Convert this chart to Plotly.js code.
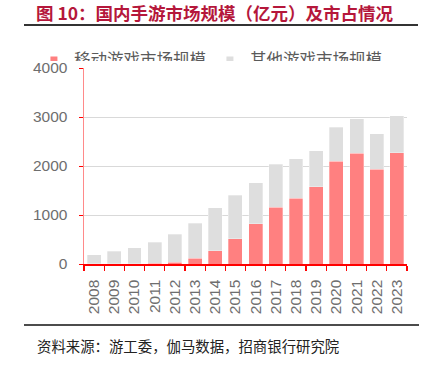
<!DOCTYPE html>
<html>
<head>
<meta charset="utf-8">
<script src="https://cdn.plot.ly/plotly-3.0.1.min.js"></script>
<style>
html, body { margin: 0; padding: 0; background: #fff; }
#chart { width: 423px; height: 368px; }
</style>
</head>
<body>
<div id="chart"></div>
<script>
var years = ['2008','2009','2010','2011','2012','2013','2014','2015','2016','2017','2018','2019','2020','2021','2022','2023'];
var mobileGame = [1.5, 6.4, 9.1, 17.0, 32.4, 112.4, 274.9, 514.6, 819.2, 1161.2, 1339.6, 1581.1, 2096.8, 2255.4, 1930.6, 2268.6];
var otherGame = [184.1, 256.4, 317.7, 429.1, 570.4, 719.3, 869.9, 892.4, 836.5, 874.9, 804.8, 727.7, 690.1, 709.7, 728.3, 761.0];
var seriesNames = ['移动游戏市场规模', '其他游戏市场规模'];
var titleText = '图 10：国内手游市场规模（亿元）及市占情况';
var sourceText = '资料来源：游工委，伽马数据，招商银行研究院';

var RED = '#FF8080', GRAY = '#DEDEDE';
var numFont = 'Liberation Sans, Arial, sans-serif';
var cjkFont = 'Noto Sans CJK SC, sans-serif';

var traces = [
  {type: 'bar', x: years, y: mobileGame, name: seriesNames[0], showlegend: false,
   marker: {color: RED, line: {color: 'rgba(255,255,255,0.6)', width: 0.5}}},
  {type: 'bar', x: years, y: otherGame, name: seriesNames[1], showlegend: false,
   marker: {color: GRAY, line: {color: 'rgba(255,255,255,0.6)', width: 0.5}}},
  {type: 'scatter', mode: 'markers', x: [null], y: [null], name: seriesNames[0],
   marker: {symbol: 'square', size: 7, color: RED}, hoverinfo: 'skip'},
  {type: 'scatter', mode: 'markers', x: [null], y: [null], name: seriesNames[1],
   marker: {symbol: 'square', size: 7, color: GRAY}, hoverinfo: 'skip'}
];

var layout = {
  width: 423, height: 368,
  margin: {l: 84, r: 16, t: 68, b: 104},
  paper_bgcolor: '#fff', plot_bgcolor: '#fff',
  barmode: 'stack', bargap: 0.31,
  showlegend: true,
  legend: {orientation: 'h', x: -0.155, xanchor: 'left', y: 1.04, yanchor: 'middle',
           font: {family: cjkFont, size: 16.5, color: '#5A5A5A'}, entrywidth: 131,
           bgcolor: 'rgba(0,0,0,0)', traceorder: 'normal'},
  title: {text: titleText, x: 36/423, xanchor: 'left', xref: 'container',
          y: 1 - 14/368, yanchor: 'middle', yref: 'container',
          font: {family: cjkFont, size: 17.5, color: '#B5173B', weight: 'bold'}},
  xaxis: {type: 'category', tickson: 'boundaries', ticks: 'outside', ticklen: 5, tickwidth: 1.2,
          tickcolor: '#FF0000', showline: true, linecolor: '#FF0000', linewidth: 1.5,
          tickangle: -90, tickfont: {family: numFont, size: 15.5, color: '#6E6E6E'},
          ticklabelstandoff: 8, showgrid: false, fixedrange: true},
  yaxis: {range: [0, 4000], dtick: 1000, ticks: 'outside', ticklen: 4, tickcolor: '#FF0000',
          showline: true, linecolor: '#FF8A8A', linewidth: 1.5, zeroline: false,
          gridcolor: '#D9D9D9', gridwidth: 1,
          tickfont: {family: numFont, size: 15.5, color: '#6E6E6E'},
          ticklabelstandoff: 8, fixedrange: true},
  shapes: [
    {type: 'line', xref: 'paper', yref: 'paper', x0: (24-84)/323, x1: (418-84)/323,
     y0: (264-25)/196, y1: (264-25)/196, line: {color: '#333', width: 2}},
    {type: 'line', xref: 'paper', yref: 'paper', x0: (24-84)/323, x1: (419-84)/323,
     y0: (264-325)/196, y1: (264-325)/196, line: {color: '#111', width: 1.5}}
  ],
  annotations: [
    {text: sourceText, xref: 'paper', yref: 'paper', x: (35-84)/323, xanchor: 'left',
     y: (264-345)/196, yanchor: 'middle', showarrow: false,
     font: {family: cjkFont, size: 14.4, color: '#222'}}
  ]
};

Plotly.newPlot('chart', traces, layout, {displayModeBar: false, staticPlot: true}).then(function(gd){
  var lg = gd.querySelector('g.legend');
  if (!lg) return;
  var ctm = lg.getCTM();
  var ns = 'http://www.w3.org/2000/svg';
  var owner = lg.ownerSVGElement;
  var defs = owner.querySelector('defs') || owner.insertBefore(document.createElementNS(ns, 'defs'), owner.firstChild);
  var cp = document.createElementNS(ns, 'clipPath');
  cp.setAttribute('id', 'legendCutClip');
  cp.setAttribute('clipPathUnits', 'userSpaceOnUse');
  var r = document.createElementNS(ns, 'rect');
  r.setAttribute('x', -1000);
  r.setAttribute('y', -1000);
  r.setAttribute('width', 3000);
  r.setAttribute('height', 1000 + (61 - ctm.f));
  cp.appendChild(r);
  defs.appendChild(cp);
  lg.setAttribute('clip-path', 'url(#legendCutClip)');
});
</script>
</body>
</html>
